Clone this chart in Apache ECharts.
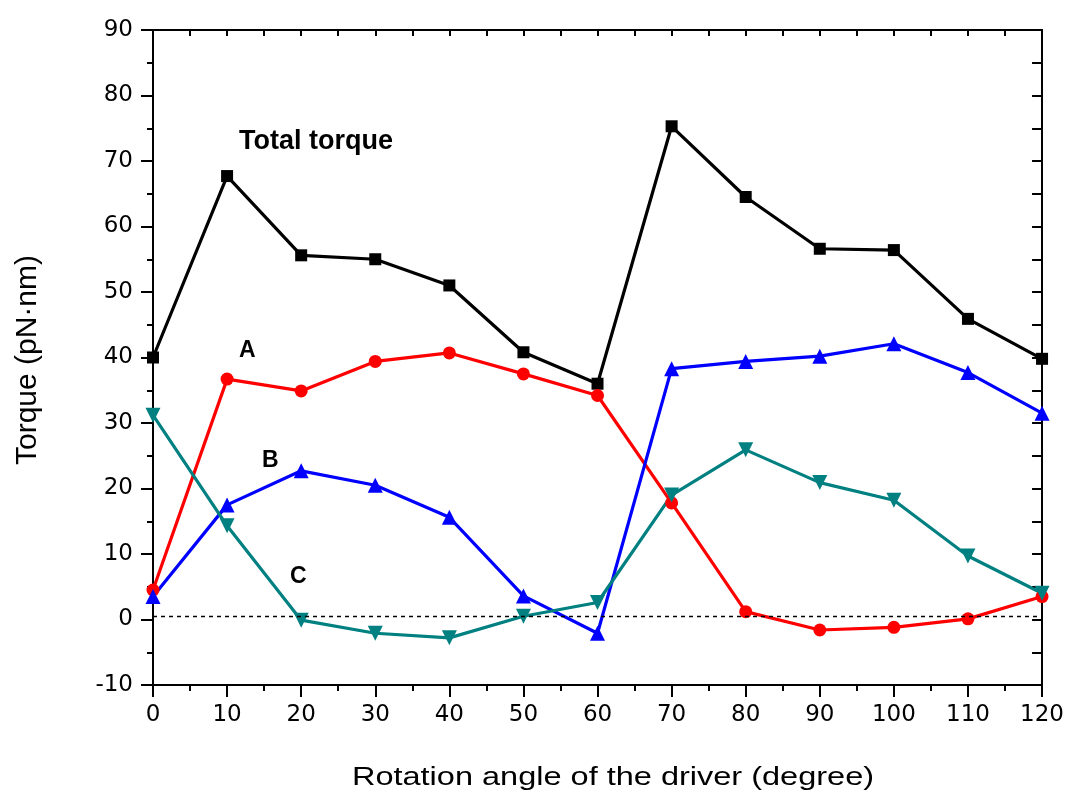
<!DOCTYPE html>
<html>
<head>
<meta charset="utf-8">
<script src="https://cdn.jsdelivr.net/npm/echarts@6/dist/echarts.min.js"></script>
<style>
    html, body { margin: 0; padding: 0; background: #fff; }
    #chart { width: 1067px; height: 794px; }
</style>
</head>
<body>
<div id="chart"></div>
<script>
    // rotation angle (degree)
    const angles = [0, 10, 20, 30, 40, 50, 60, 70, 80, 90, 100, 110, 120];
    const totalTorque = [40.0, 67.7, 55.6, 55.0, 51.0, 40.8, 36.0, 75.3, 64.5, 56.6, 56.4, 45.9, 39.8];
    const torqueA = [4.5, 36.7, 34.9, 39.4, 40.7, 37.5, 34.2, 17.8, 1.2, -1.6, -1.2, 0.1, 3.5];
    const torqueB = [3.5, 17.5, 22.7, 20.5, 15.6, 3.6, -2.1, 38.3, 39.4, 40.2, 42.1, 37.7, 31.5];
    const torqueC = [31.2, 14.3, -0.1, -2.1, -2.8, 0.5, 2.6, 19.0, 25.9, 20.9, 18.2, 9.7, 4.0];
    const baseline = 0.5;

    const pairs = ys => angles.map((a, i) => [a, ys[i]]);
    const font = 'Liberation Sans, Arial, sans-serif';
    const tickFont = 'DejaVu Sans, sans-serif';

    const blackLine = { color: '#000', width: 2 };
    const axisCommon = {
        axisLine: { show: true, onZero: false, lineStyle: blackLine },
        axisTick: { show: true, length: 12, lineStyle: blackLine },
        minorTick: { show: true, splitNumber: 2, length: 6, lineStyle: blackLine },
        splitLine: { show: false }
    };
    // mirror axes on top / right: ticks inside, every 5 units
    const mirrorCommon = {
        axisLine: { show: true, onZero: false, lineStyle: blackLine },
        axisTick: { show: true, inside: true, length: 6, lineStyle: blackLine },
        minorTick: { show: false },
        splitLine: { show: false },
        axisLabel: { show: false }
    };

    const chart = echarts.init(document.getElementById('chart'));
    chart.setOption({
        animation: false,
        backgroundColor: '#fff',
        grid: { left: 153, right: 23, top: 30, bottom: 109 },
        xAxis: [{
            type: 'value', min: 0, max: 120, interval: 10,
            ...axisCommon,
            axisLabel: { color: '#000', fontSize: 23, fontFamily: tickFont, margin: 19 }
        }, {
            type: 'value', min: 0, max: 120, interval: 5, position: 'top',
            ...mirrorCommon
        }],
        yAxis: [{
            type: 'value', min: -10, max: 90, interval: 10,
            ...axisCommon,
            axisLabel: { color: '#000', fontSize: 23, fontFamily: tickFont, margin: 20 }
        }, {
            type: 'value', min: -10, max: 90, interval: 5, position: 'right',
            ...mirrorCommon,
            axisTick: { show: true, inside: true, length: 10, lineStyle: blackLine }
        }],
        series: [{
            name: 'Total torque', type: 'line', data: pairs(totalTorque),
            symbol: 'rect', symbolSize: 12,
            lineStyle: { color: '#000', width: 3.2 }, itemStyle: { color: '#000' }
        }, {
            name: 'A', type: 'line', data: pairs(torqueA),
            symbol: 'circle', symbolSize: 13,
            lineStyle: { color: '#ff0000', width: 3.2 }, itemStyle: { color: '#ff0000' },
            markLine: {
                silent: true, symbol: 'none', label: { show: false },
                lineStyle: { color: '#000', width: 1.3, type: [4, 4] },
                data: [{ yAxis: baseline }]
            }
        }, {
            name: 'B', type: 'line', data: pairs(torqueB),
            symbol: 'triangle', symbolSize: 15,
            lineStyle: { color: '#0000ff', width: 3.2 }, itemStyle: { color: '#0000ff' }
        }, {
            name: 'C', type: 'line', data: pairs(torqueC),
            symbol: 'triangle', symbolSize: 15, symbolRotate: 180,
            lineStyle: { color: '#008080', width: 3.2 }, itemStyle: { color: '#008080' }
        }],
        graphic: [
            { type: 'text', left: 239, top: 128, style: { text: 'Total torque', font: 'bold 27px ' + font, fill: '#000' } },
            { type: 'text', left: 239, top: 339, style: { text: 'A', font: 'bold 23px ' + font, fill: '#000' } },
            { type: 'text', left: 262, top: 449, style: { text: 'B', font: 'bold 23px ' + font, fill: '#000' } },
            { type: 'text', left: 290, top: 565, style: { text: 'C', font: 'bold 23px ' + font, fill: '#000' } },
            {
                type: 'text', x: 613, y: 778, scaleX: 1.25,
                style: { text: 'Rotation angle of the driver (degree)', font: '26px ' + font, fill: '#000', align: 'center', verticalAlign: 'middle' }
            },
            {
                type: 'text', x: 28, y: 360, rotation: Math.PI / 2,
                style: { text: 'Torque (pN\u00b7nm)', font: '30px ' + font, fill: '#000', align: 'center', verticalAlign: 'middle' }
            }
        ]
    });
</script>
</body>
</html>
